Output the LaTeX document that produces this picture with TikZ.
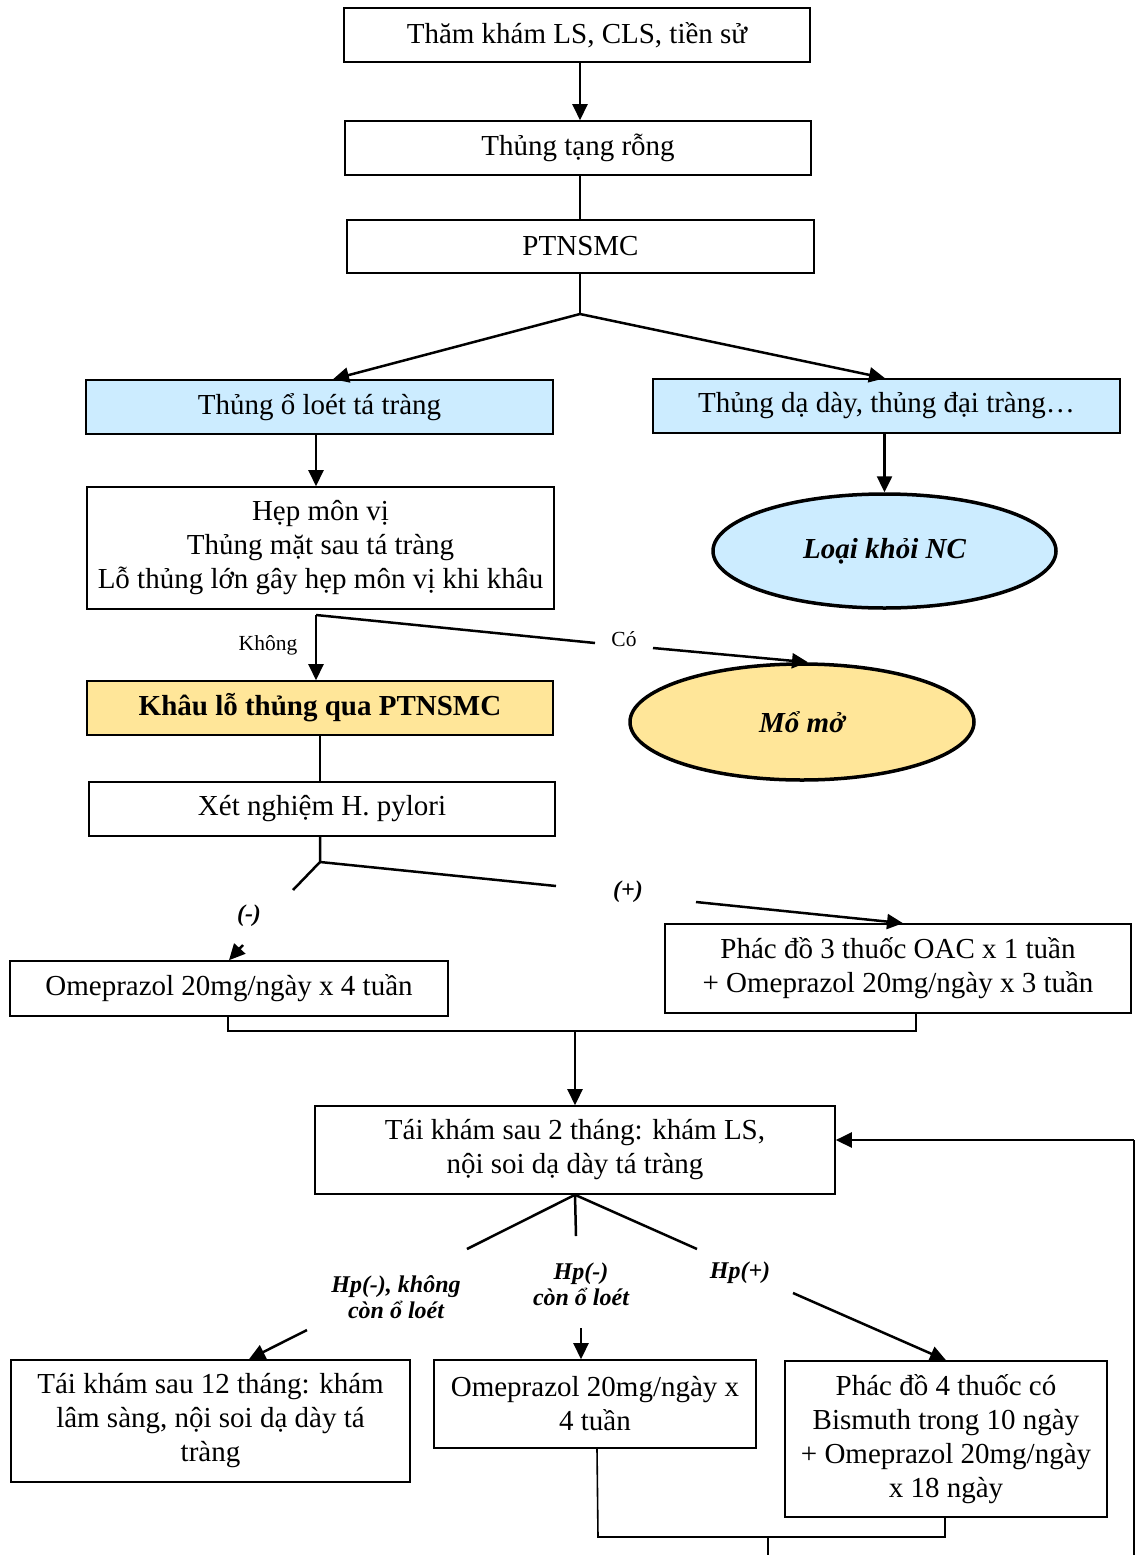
\documentclass[tikz,border=0pt]{standalone}
\usepackage{fontspec}
\setmainfont{Liberation Serif}
\usetikzlibrary{arrows.meta,shapes.geometric}
\definecolor{lblue}{HTML}{CCECFF}
\definecolor{lyellow}{HTML}{FFE699}
\begin{document}
\begin{tikzpicture}[x=1pt,y=-1pt,
 box/.style={draw,line width=1.6pt,inner sep=0pt,align=center,font=\fontsize{29}{34}\selectfont},
 ln/.style={line width=2.5pt},
 thin/.style={line width=1.6pt},
 arr/.style={ln,-{Triangle[length=16pt,width=15pt]}},
 ell/.style={ellipse,draw,line width=3.5pt,inner sep=0pt,font=\fontsize{29}{32}\selectfont\bfseries\itshape},
 lab/.style={font=\fontsize{21.5}{24}\selectfont},
 blab/.style={font=\fontsize{24}{26}\selectfont\bfseries\itshape,align=center}]
\useasboundingbox (0,0) rectangle (1137,1555);

\node[box,minimum width=466pt,minimum height=54pt] (b1) at (577,35) {Thăm khám LS, CLS, tiền sử};
\node[box,minimum width=466pt,minimum height=54pt] (b2) at (578,148) {Thủng tạng rỗng};
\node[box,minimum width=467pt,minimum height=53pt] (b3) at (580.5,246.5) {PTNSMC};
\node[box,fill=lblue,minimum width=467pt,minimum height=54pt] (b4) at (319.5,407) {Thủng ổ loét tá tràng};
\node[box,fill=lblue,minimum width=467pt,minimum height=54pt] (b5) at (886.5,406) {Thủng dạ dày, thủng đại tràng…};
\node[box,minimum width=467pt,minimum height=122pt] (b6) at (320.5,548) {Hẹp môn vị\\Thủng mặt sau tá tràng\\Lỗ thủng lớn gây hẹp môn vị khi khâu};
\node[ell,fill=lblue,minimum width=343pt,minimum height=114pt] (e1) at (884.5,551) {Loại khỏi NC};
\node[box,fill=lyellow,minimum width=466pt,minimum height=54pt,font=\fontsize{29}{34}\selectfont\bfseries] (b7) at (320,708) {Khâu lỗ thủng qua PTNSMC};
\node[ell,fill=lyellow,minimum width=344pt,minimum height=116pt] (e2) at (802,722) {Mổ mở};
\node[box,minimum width=466pt,minimum height=54pt] (b8) at (322,809) {Xét nghiệm H. pylori};
\node[box,minimum width=438pt,minimum height=55pt] (b9) at (229,988.5) {Omeprazol 20mg/ngày x 4 tuần};
\node[box,minimum width=466pt,minimum height=89pt] (b10) at (898,968.5) {Phác đồ 3 thuốc OAC x 1 tuần\\+ Omeprazol 20mg/ngày x 3 tuần};
\node[box,minimum width=520pt,minimum height=88pt] (b11) at (575,1150) {Tái khám sau 2 tháng: khám LS,\\nội soi dạ dày tá tràng};
\node[box,minimum width=399pt,minimum height=122pt] (b12) at (210.5,1421) {Tái khám sau 12 tháng: khám\\lâm sàng, nội soi dạ dày tá\\tràng};
\node[box,minimum width=322pt,minimum height=88pt] (b13) at (595,1404) {Omeprazol 20mg/ngày x\\4 tuần};
\node[box,minimum width=322pt,minimum height=156pt] (b14) at (946,1439) {Phác đồ 4 thuốc có\\Bismuth trong 10 ngày\\+ Omeprazol 20mg/ngày\\x 18 ngày};

% labels
\node[lab] (lk) at (268,645) {Không};
\node[lab] (lc) at (624,639) {Có};
\node[blab] (lm) at (249,916) {(-)};
\node[blab] (lp) at (628,892) {(+)};
\node[blab] (l1) at (396,1297) {Hp(-), không\\còn ổ loét};
\node[blab] (l2) at (581,1284) {Hp(-)\\còn ổ loét};
\node[blab] (l3) at (740,1273) {Hp(+)};

% coordinates
\coordinate (s1) at (580,314);
\coordinate (s2) at (316,615);
\coordinate (c1) at (595,643);
\coordinate (c2) at (653,648);
\coordinate (s3) at (320,862);
\coordinate (m1) at (293,890);
\coordinate (m2) at (243,945);
\coordinate (p1) at (556,886);
\coordinate (p2) at (696,902);
\coordinate (k1) at (228,1031);
\coordinate (k2) at (916,1031);
\coordinate (k3) at (916,1013);
\coordinate (km) at (575,1031);
\coordinate (t1) at (467,1249);
\coordinate (t2) at (576,1236);
\coordinate (t3) at (697,1249);
\coordinate (u1) at (307,1330);
\coordinate (u2) at (581,1328);
\coordinate (u3) at (793,1293);
\coordinate (w1) at (598,1537);
\coordinate (w2) at (945,1537);
\coordinate (wm) at (768,1537);
\coordinate (wb) at (768,1555);
\coordinate (r1) at (1134,1555);
\coordinate (r2) at (1134,1140);

% connectors
\draw[arr] (b1.south -| 580,0) -- (b2.north -| 580,0);
\draw[ln] (b2.south -| 580,0) -- (b3.north -| 580,0);
\draw[ln] (b3.south -| 580,0) -- (s1);
\draw[arr] (s1) -- (b4.north -| 333,0);
\draw[arr] (s1) -- (b5.north -| 885,0);
\draw[arr] (b4.south -| 316,0) -- (b6.north -| 316,0);
\draw[arr] (b5.south -| e1.north) -- (e1.north);
\draw[arr] (s2) -- (b7.north -| s2);
\draw[ln] (s2) -- (c1);
\draw[arr] (c2) -- (e2.north -| 808,0);
\draw[ln] (b7.south) -- (b8.north -| b7.south);
\draw[ln] (b8.south -| s3) -- (s3) -- (m1);
\draw[ln] (s3) -- (p1);
\draw[arr] (m2) -- (b9.north);
\draw[arr] (p2) -- (b10.north -| 903,0);
\draw[thin] (b9.south -| k1) -- (k1) -- (k2) -- (k3);
\draw[arr] (km) -- (b11.north -| km);
\draw[ln] (b11.south) -- (t1);
\draw[ln] (b11.south) -- (t2);
\draw[ln] (b11.south) -- (t3);
\draw[arr] (u1) -- (b12.north -| 249,0);
\draw[arr] (u2) -- (b13.north -| u2);
\draw[arr] (u3) -- (b14.north);
\draw[thin] (b13.south -| 597,0) -- (w1) -- (w2) -- (b14.south -| w2);
\draw[thin] (wm) -- (wb);
\draw[ln] (r1) -- (r2);
\draw[arr] (r2) -- (b11.east |- r2);
\end{tikzpicture}
\end{document}
